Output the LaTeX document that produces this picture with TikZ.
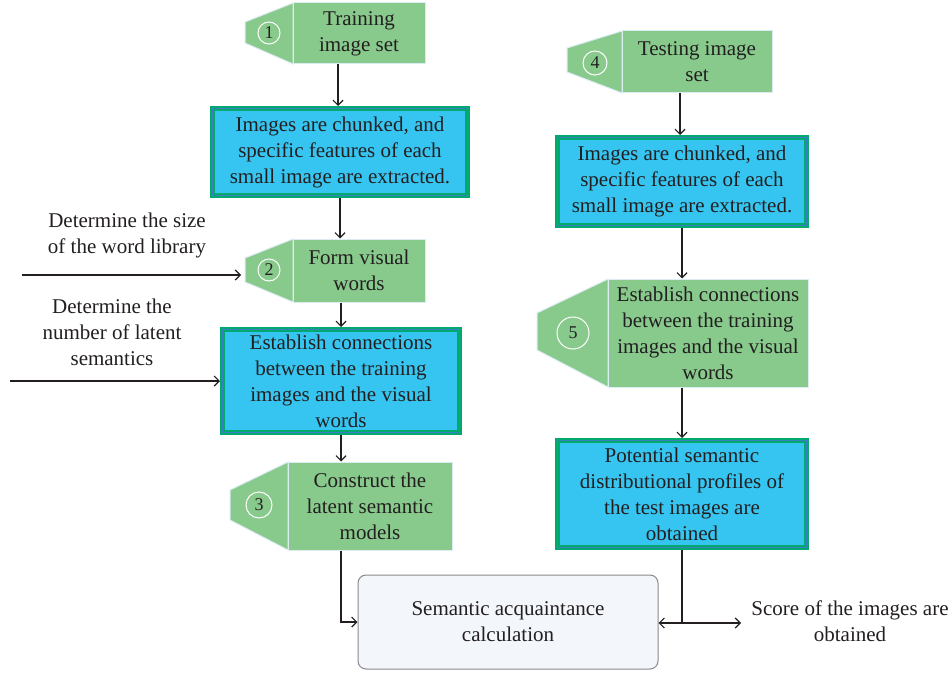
\documentclass[tikz,border=0pt]{standalone}
\usepackage{fontspec}
\setmainfont{Liberation Serif}
\usetikzlibrary{arrows.meta}
\definecolor{tagg}{HTML}{88C98C}
\definecolor{tagline}{HTML}{DDEBF3}
\definecolor{bluef}{HTML}{36C5F0}
\definecolor{greenb}{HTML}{00A96C}
\definecolor{blueline}{HTML}{3D7FC6}
\definecolor{semf}{HTML}{F3F6FA}
\definecolor{semline}{HTML}{8A8A8A}
\definecolor{txt}{HTML}{231F20}
\tikzset{
  lbl/.style={font=\fontsize{21}{26}\selectfont, text=txt, align=center, inner sep=0pt},
  tagrect/.style={lbl, fill=tagg, draw=tagline, line width=1pt},
  tagtip/.style={fill=tagg, draw=tagline, line width=1pt},
  numc/.style={circle, draw=white, line width=1pt, inner sep=0pt, text=txt, font=\fontsize{18}{20}\selectfont},
  bluebox/.style={lbl, fill=bluef, draw=greenb, line width=5pt},
  innerline/.style={draw=blueline, line width=0.9pt},
  sembox/.style={lbl, fill=semf, draw=semline, line width=1pt, rounded corners=8pt},
  arr/.style={draw=txt, line width=1.2pt, -{Straight Barb[length=5pt,width=10pt,line width=1.2pt]}},
  darr/.style={draw=txt, line width=1.2pt, {Straight Barb[length=5pt,width=10pt,line width=1.2pt]}-{Straight Barb[length=5pt,width=10pt,line width=1.2pt]}},
  plain/.style={draw=txt, line width=1.2pt}
}
\begin{document}
\begin{tikzpicture}[x=1pt,y=-1pt]
\useasboundingbox (0,0) rectangle (950,674);
\fill[white] (0,0) rectangle (950,674);

% ---- tag 1
\path[tagtip] (293,3) -- (245,22) -- (245,43) -- (293,64) -- cycle;
\node[tagrect, minimum width=132pt, minimum height=61pt] (t1) at (359,33.5) {Training\\image set};
\node[numc, minimum size=22pt] (c1) at (269,33) {1};

% ---- blue box 1
\node[bluebox, minimum width=255pt, minimum height=87pt] (b1) at (340,152) {Images are chunked, and\\specific features of each\\small image are extracted.};

% ---- tag 2
\path[tagtip] (293,239) -- (245,258) -- (245,282) -- (293,302) -- cycle;
\node[tagrect, minimum width=132pt, minimum height=63pt] (t2) at (359,270.5) {Form visual\\words};
\node[numc, minimum size=22pt] (c2) at (269,270) {2};
\coordinate (tip2) at (241,275);

% ---- blue box 2
\node[bluebox, minimum width=237pt, minimum height=103pt] (b2) at (341,381) {Establish connections\\between the training\\images and the visual\\words};

% ---- tag 3
\path[tagtip] (288,462) -- (230,490) -- (230,520) -- (288,550) -- cycle;
\node[tagrect, minimum width=164pt, minimum height=88pt] (t3) at (370,506) {Construct the\\latent semantic\\models};
\node[numc, minimum size=26pt] (c3) at (259,505) {3};

% ---- tag 4
\path[tagtip] (622,31) -- (567,48) -- (567,72) -- (622,93) -- cycle;
\node[tagrect, minimum width=150pt, minimum height=62pt] (t4) at (697,62) {Testing image\\set};
\node[numc, minimum size=24pt] (c4) at (595,63) {4};

% ---- blue box 3
\node[bluebox, minimum width=249pt, minimum height=88pt] (b3) at (682,181.5) {Images are chunked, and\\specific features of each\\small image are extracted.};

% ---- tag 5
\path[tagtip] (608,279) -- (537,313) -- (537,350) -- (608,387) -- cycle;
\node[tagrect, minimum width=200pt, minimum height=108pt] (t5) at (708,333) {Establish connections\\between the training\\images and the visual\\words};
\node[numc, minimum size=32pt] (c5) at (573,333) {5};

% ---- blue box 4
\node[bluebox, minimum width=249pt, minimum height=107pt] (b4) at (682,494) {Potential semantic\\distributional profiles of\\the test images are\\obtained};

\foreach \n in {b1,b2,b3,b4}
  \draw[innerline] ([xshift=2.6pt,yshift=-2.6pt]\n.north west) rectangle ([xshift=-2.6pt,yshift=2.6pt]\n.south east);

% ---- semantic box
\node[sembox, minimum width=300pt, minimum height=94pt] (sem) at (508,622) {Semantic acquaintance\\calculation};

% ---- side texts
\node[lbl] (in1t) at (127,235.5) {Determine the size\\of the word library};
\node[lbl] (in2t) at (112,332) {Determine the\\number of latent\\semantics};
\node[lbl] (score) at (850,621.5) {Score of the images are\\obtained};
\coordinate (in1) at (22,275);
\coordinate (in2) at (10,381);
\coordinate (out) at (741,623);

% ---- connectors
\draw[arr] ([xshift=-21pt]t1.south) coordinate (a1) -- (a1 |- b1.north);
\draw[arr] (b1.south) -- (b1.south |- t2.north);
\draw[arr] (b2.north |- t2.south) -- (b2.north);
\draw[arr] (b2.south) -- (b2.south |- t3.north);
\draw[arr] (b2.south |- t3.south) |- (sem.west);
\draw[arr] (in1) -- (tip2);
\draw[arr] (in2) -- (in2 -| b2.west);

\draw[arr] ([xshift=-17pt]t4.south) coordinate (a4) -- (a4 |- b3.north);
\draw[arr] (b3.south) -- (b3.south |- t5.north);
\draw[arr] (b4.north |- t5.south) -- (b4.north);
\draw[plain] (b4.south) -- (b4.south |- out);
\draw[darr] (out -| sem.east) -- (out);
\end{tikzpicture}
\end{document}
